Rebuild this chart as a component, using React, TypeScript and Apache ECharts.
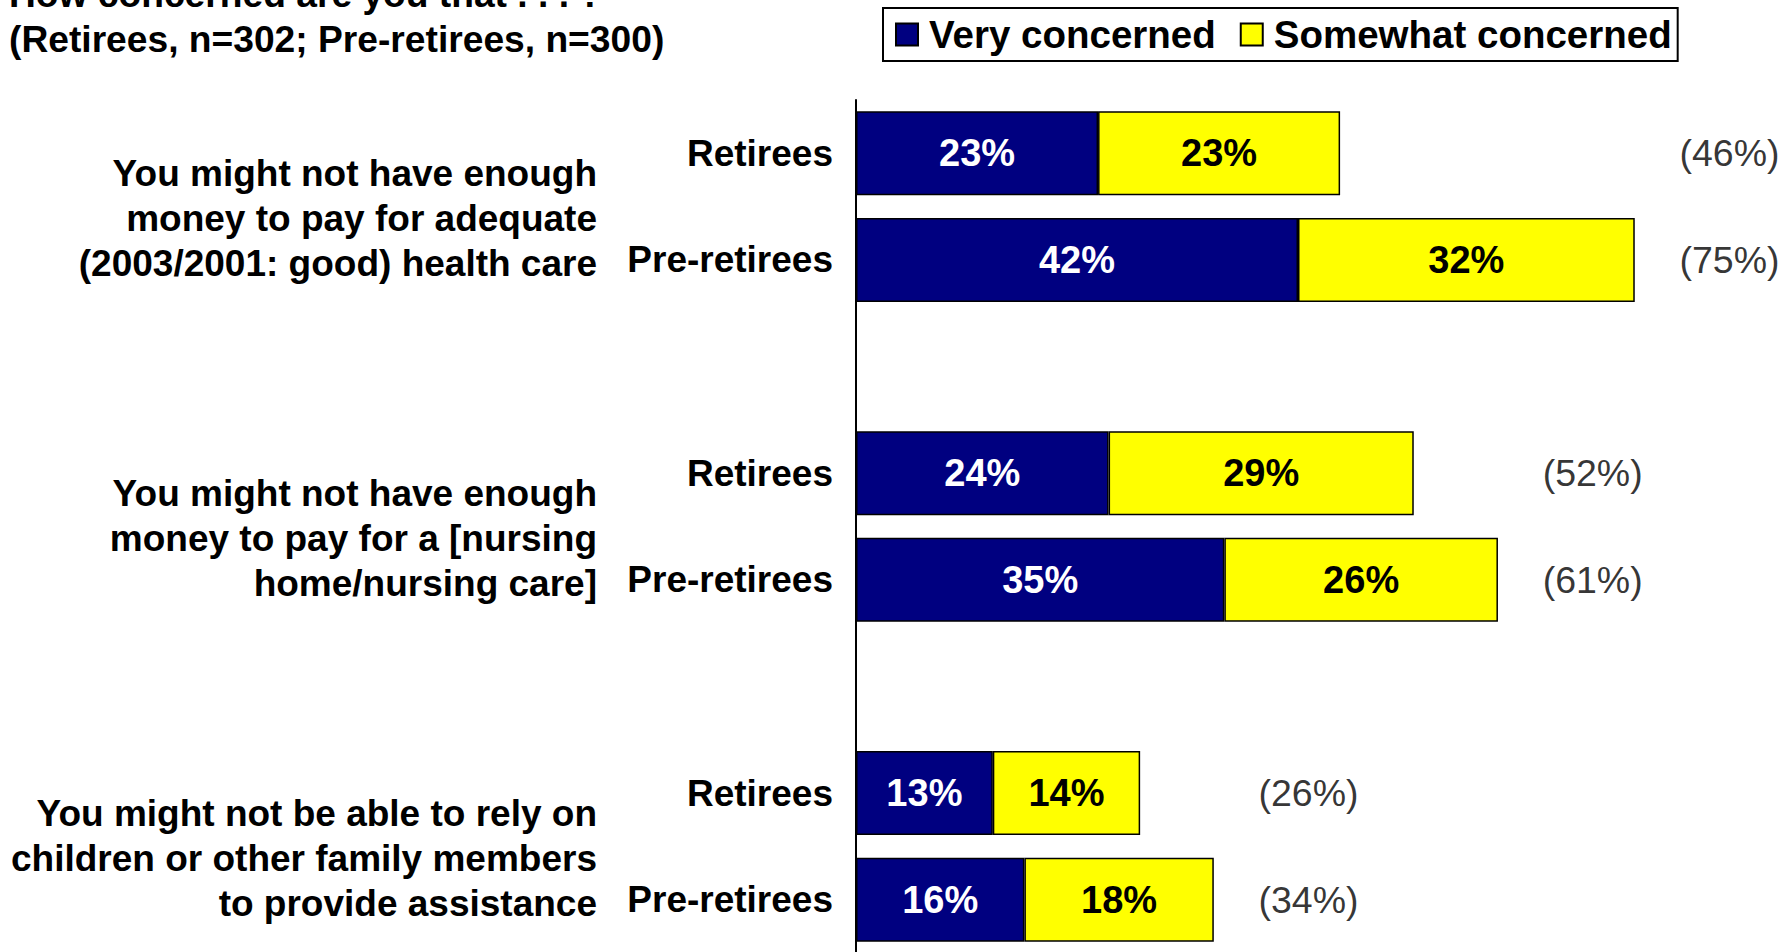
import React, { useEffect, useRef } from "react";
import * as echarts from "echarts";

const titleLines = ["How concerned are you that . . . ?", "(Retirees, n=302; Pre-retirees, n=300)"];
const questions = [
  "You might not have enough\nmoney to pay for adequate\n(2003/2001: good) health care",
  "You might not have enough\nmoney to pay for a [nursing\nhome/nursing care]",
  "You might not be able to rely on\nchildren or other family members\nto provide assistance",
];
const respondents = ["Retirees", "Pre-retirees"];
const seriesNames = ["Very concerned", "Somewhat concerned"];
// per question: [Retirees, Pre-retirees]
const veryConcerned = [
  [23, 42],
  [24, 35],
  [13, 16],
];
const somewhatConcerned = [
  [23, 32],
  [29, 26],
  [14, 18],
];
const totals = [
  [46, 75],
  [52, 61],
  [26, 34],
];

const FONT = "'Liberation Sans', Arial, Helvetica, sans-serif";

type Row = { q: number; r: number } | null;

export default function App() {
  const ref = useRef<HTMLDivElement>(null);

  useEffect(() => {
    if (!ref.current) return;
    const chart = echarts.init(ref.current, null, { renderer: "svg" });

    const rows: Row[] = [];
    const groupStart: number[] = [];
    questions.forEach((_, q) => {
      groupStart.push(rows.length);
      respondents.forEach((_, r) => rows.push({ q, r }));
      if (q < questions.length - 1) rows.push(null);
    });
    const slotIds = rows.map((row, i) => (row ? `${row.q}-${row.r}` : `gap-${i}`));

    const veryData = rows.map((row) => (row ? veryConcerned[row.q][row.r] : "-"));
    const someData = rows.map((row) => (row ? somewhatConcerned[row.q][row.r] : "-"));
    const totalData: any[] = [];
    rows.forEach((row, i) => {
      if (!row) return;
      const groupMax = Math.max(
        ...respondents.map((_, r) => veryConcerned[row.q][r] + somewhatConcerned[row.q][r])
      );
      totalData.push({ value: [groupMax + 9, i], total: totals[row.q][row.r] });
    });

    // question label anchors: midpoint between the group's two bars (slightly lowered)
    const questionAnchors = groupStart.map((s) => s + respondents.length / 2 + 0.11);

    const barLabel = (color: string) => ({
      show: true,
      position: "inside",
      color,
      fontFamily: FONT,
      fontWeight: "bold",
      fontSize: 38,
      formatter: (p: any) => `${p.value}%`,
    });

    chart.setOption({
      animation: false,
      backgroundColor: "#ffffff",
      title: {
        text: titleLines.join("\n"),
        left: 4,
        top: -34,
        textStyle: {
          fontFamily: FONT,
          fontWeight: "bold",
          fontSize: 37.2,
          lineHeight: 45,
          color: "#000",
        },
      },
      legend: {
        data: seriesNames,
        left: 883,
        top: 8,
        orient: "horizontal",
        itemWidth: 22,
        itemHeight: 22,
        itemGap: 24,
        icon: "rect",
        selectedMode: false,
        borderColor: "#000",
        borderWidth: 2,
        padding: [7, 6, 7, 12],
        textStyle: {
          fontFamily: FONT,
          fontWeight: "bold",
          fontSize: 38.5,
          color: "#000",
          padding: [0, 0, 0, 6],
        },
      },
      grid: {
        left: 856,
        top: 100,
        width: 884,
        height: 853,
        containLabel: false,
        outerBoundsMode: "none",
      },
      xAxis: { type: "value", min: 0, max: 84, show: false },
      yAxis: [
        {
          type: "category",
          inverse: true,
          data: slotIds,
          axisLine: { show: true, lineStyle: { color: "#000", width: 2 } },
          axisTick: { show: false },
          axisLabel: {
            interval: 0,
            margin: 23,
            fontFamily: FONT,
            fontWeight: "bold",
            fontSize: 37,
            color: "#000",
            formatter: (_v: string, i: number) => (rows[i] ? respondents[rows[i]!.r] : ""),
          },
        },
        {
          type: "value",
          inverse: true,
          position: "left",
          offset: 259,
          min: 0,
          max: rows.length,
          axisLine: { show: false },
          axisTick: { show: false },
          splitLine: { show: false },
          axisLabel: {
            customValues: questionAnchors,
            showMinLabel: true,
            showMaxLabel: true,
            hideOverlap: false,
            margin: 0,
            align: "right",
            verticalAlign: "middle",
            lineHeight: 45,
            fontFamily: FONT,
            fontWeight: "bold",
            fontSize: 37,
            color: "#000",
            formatter: (v: number) => {
              let best = 0;
              questionAnchors.forEach((a, q) => {
                if (Math.abs(a - v) < Math.abs(questionAnchors[best] - v)) best = q;
              });
              return Math.abs(questionAnchors[best] - v) < 0.5 ? questions[best] : "";
            },
          },
        },
      ],
      series: [
        {
          name: seriesNames[0],
          type: "bar",
          stack: "total",
          yAxisIndex: 0,
          barWidth: 84,
          data: veryData,
          itemStyle: { color: "#000080", borderColor: "#000", borderWidth: 1.5 },
          label: barLabel("#ffffff"),
        },
        {
          name: seriesNames[1],
          type: "bar",
          stack: "total",
          yAxisIndex: 0,
          barWidth: 84,
          data: someData,
          itemStyle: { color: "#FFFF00", borderColor: "#000", borderWidth: 1.5 },
          label: barLabel("#000000"),
        },
        {
          name: "Total",
          type: "scatter",
          yAxisIndex: 0,
          symbolSize: 0,
          clip: false,
          data: totalData,
          label: {
            show: true,
            position: "inside",
            color: "#000",
            fontFamily: FONT,
            fontSize: 37.5,
            formatter: (p: any) => `(${p.data.total}%)`,
          },
        },
      ],
    });

    return () => chart.dispose();
  }, []);

  return (
    <div
      ref={ref}
      style={{ position: "fixed", left: 0, top: 0, width: 1787, height: 952, background: "#fff" }}
    />
  );
}
